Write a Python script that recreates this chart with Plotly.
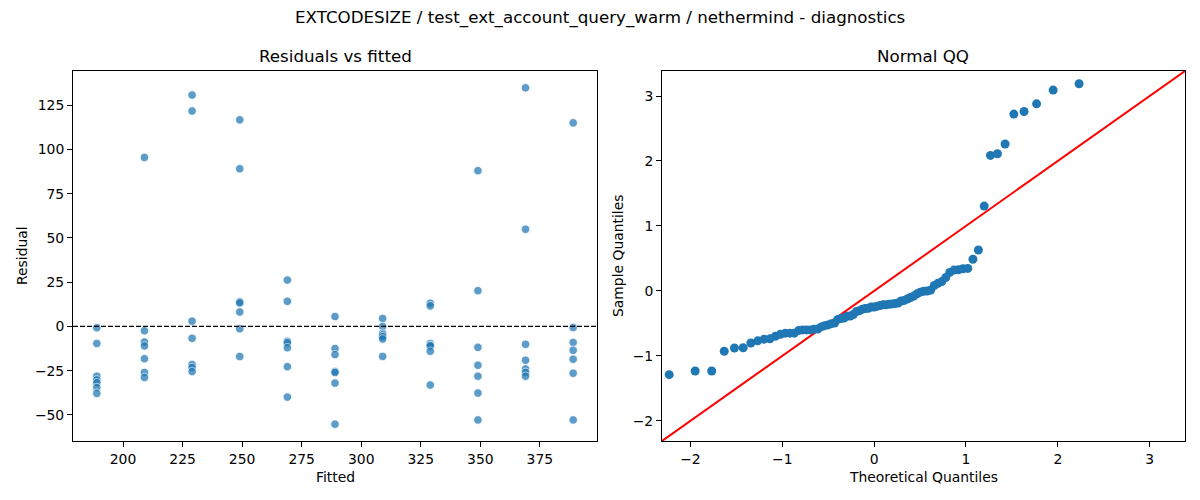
import plotly.graph_objects as go
import numpy as np
from statistics import NormalDist

fitted_levels = [189, 209, 229, 249, 269, 289, 309, 329, 349, 369, 389]
res_189 = [-0.7, -9.6, -28.1, -30.2, -31.8, -34.5, -37.8]
res_209 = [95.5, -2.4, -8.8, -11.0, -18.2, -26.0, -28.8]
res_229 = [130.7, 121.7, 3.0, -6.7, -21.5, -23.2, -25.5]
res_249 = [116.7, 89.1, 14.0, 13.3, 8.2, -1.3, -17.0]
res_269 = [26.2, 14.2, -8.4, -9.2, -12.0, -22.7, -39.9]
res_289 = [5.6, -12.5, -15.9, -25.4, -26.0, -32.0, -55.2]
res_309 = [4.5, 0.0, -3.9, -4.8, -5.8, -7.1, -16.9]
res_329 = [13.1, 11.6, -9.6, -10.6, -11.0, -14.0, -33.1]
res_349 = [88.0, 20.2, -11.8, -21.9, -28.1, -37.6, -52.8]
res_369 = [134.8, 54.9, -10.1, -19.1, -24.0, -26.0, -28.1]
res_389 = [115.0, -0.6, -9.0, -13.5, -18.5, -26.4, -52.8]

groups = [res_189, res_209, res_229, res_249, res_269, res_289,
          res_309, res_329, res_349, res_369, res_389]

fitted = []
resid = []
for lvl, g in zip(fitted_levels, groups):
    fitted += [lvl] * len(g)
    resid += g
resid = np.array(resid)

# normal QQ (standardised, plotting positions i/(n+1))
n = len(resid)
sample_q = np.sort((resid - resid.mean()) / resid.std())
theo_q = [NormalDist().inv_cdf(i / (n + 1)) for i in range(1, n + 1)]

qq_range = [-2.31, 3.385]

# page body has an 8px margin, so lay out in window pixels minus that
W, H, OFF = 1192, 492, 8


def px(x):
    return (x - OFF) / W


def py(y):
    return 1 - (y - OFF) / H


fig = go.Figure()

fig.add_trace(go.Scatter(
    x=fitted, y=resid, mode="markers", xaxis="x", yaxis="y",
    marker=dict(size=8.5, color="#1f77b4", opacity=0.72,
                line=dict(color="white", width=0.8)),
    showlegend=False))

fig.add_trace(go.Scatter(
    x=qq_range, y=qq_range, mode="lines", xaxis="x2", yaxis="y2",
    line=dict(color="red", width=2), showlegend=False))

fig.add_trace(go.Scatter(
    x=theo_q, y=sample_q, mode="markers", xaxis="x2", yaxis="y2",
    marker=dict(size=9, color="#1f77b4"),
    showlegend=False))

axis_style = dict(showline=True, linecolor="black", linewidth=1, mirror=True,
                  ticks="outside", ticklen=5, tickcolor="black", showgrid=False,
                  zeroline=False, tickfont=dict(size=13.9, color="black"))


def label(text, x, y, size=13.9, angle=0):
    return dict(text=text, x=px(x), y=py(y), xref="paper", yref="paper",
                xanchor="center", yanchor="middle", showarrow=False,
                textangle=angle, font=dict(size=size))


fig.update_layout(
    width=W, height=H,
    margin=dict(l=0, r=0, t=0, b=0),
    paper_bgcolor="white", plot_bgcolor="white",
    font=dict(family="DejaVu Sans", color="black"),
    xaxis=dict(domain=[px(73), px(597)], range=[179, 399],
               tickvals=[200, 225, 250, 275, 300, 325, 350, 375], **axis_style),
    yaxis=dict(domain=[py(441), py(71)], range=[-64.7, 144.3],
               tickvals=[-50, -25, 0, 25, 50, 75, 100, 125], **axis_style),
    xaxis2=dict(domain=[px(662), px(1185)], range=qq_range,
                tickvals=[-2, -1, 0, 1, 2, 3], anchor="y2", **axis_style),
    yaxis2=dict(domain=[py(441), py(71)], range=qq_range,
                tickvals=[-2, -1, 0, 1, 2, 3], anchor="x2", **axis_style),
    shapes=[dict(type="line", xref="x domain", yref="y", x0=0, x1=1, y0=0, y1=0,
                 line=dict(color="black", width=1.2, dash="5px,2px"))],
    annotations=[
        label("EXTCODESIZE / test_ext_account_query_warm / nethermind - diagnostics",
              600, 18, size=16.7),
        label("Residuals vs fitted", 335, 56, size=16.7),
        label("Normal QQ", 923, 56, size=16.7),
        label("Fitted", 335, 477),
        label("Residual", 22, 256, angle=-90),
        label("Theoretical Quantiles", 923, 477),
        label("Sample Quantiles", 618, 256, angle=-90),
    ],
)

fig.write_html("out.html")
